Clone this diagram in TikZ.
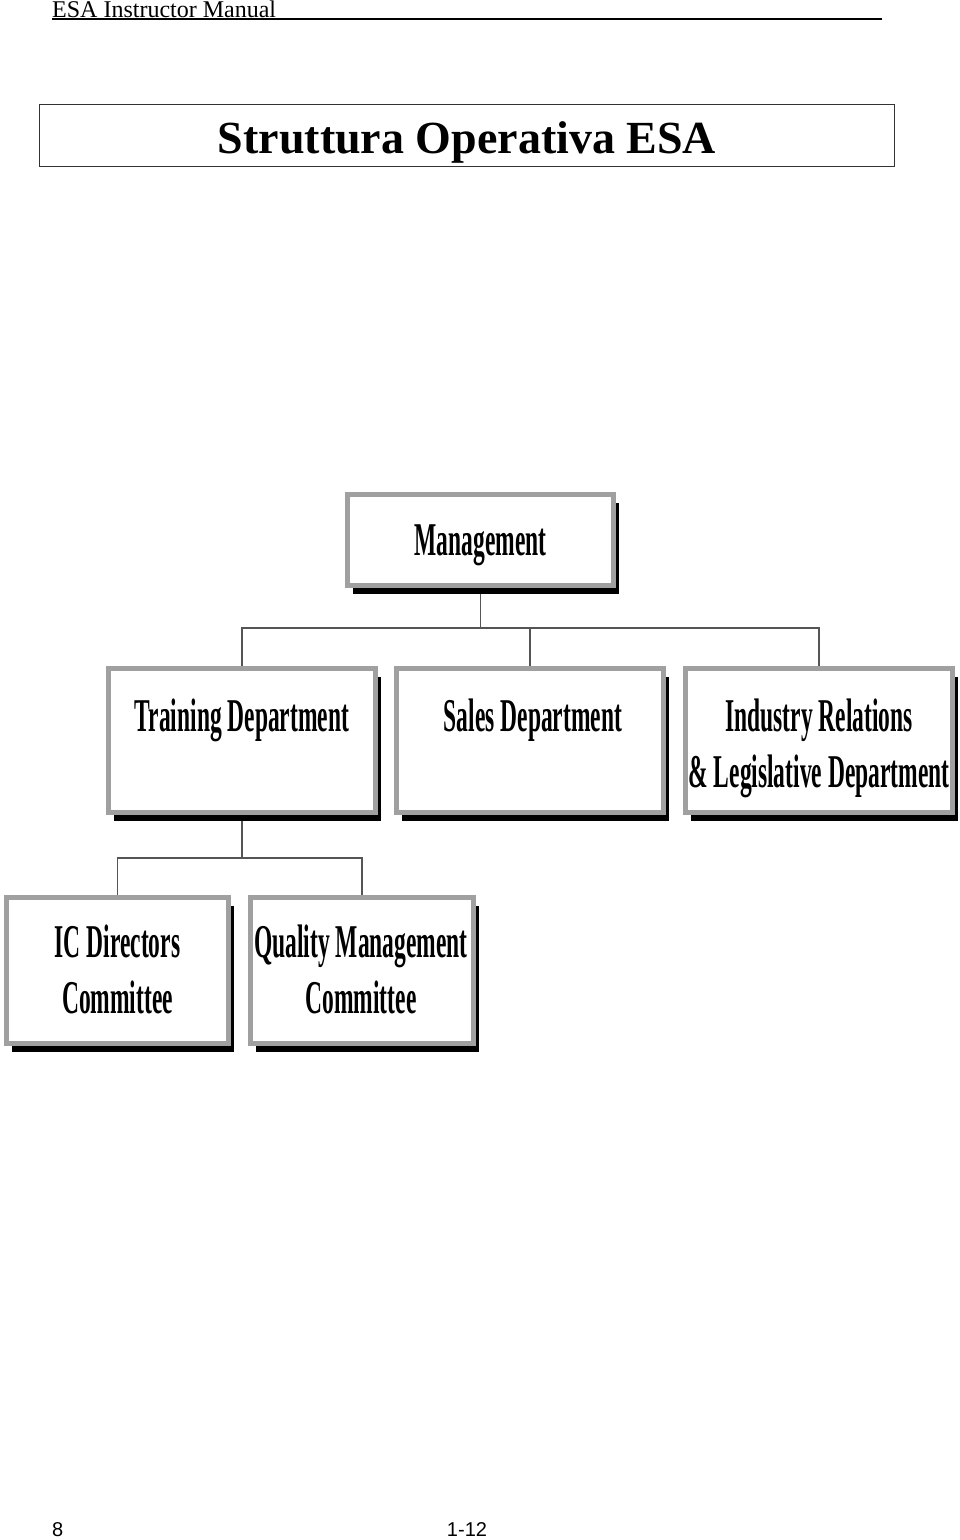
\documentclass[tikz,border=0pt]{standalone}
\usepackage{fontspec}
\setmainfont{Liberation Serif}
\newfontfamily\cond[FakeStretch=0.5]{Liberation Serif}
\newfontfamily\footfont{Liberation Sans}
\usetikzlibrary{shadows,backgrounds}
\definecolor{framegray}{HTML}{A0A0A0}
\definecolor{linegray}{HTML}{555555}
\tikzset{
  orgbox/.style={draw=framegray, line width=5pt, fill=white, inner sep=0pt,
    drop shadow={shadow xshift=5.5pt, shadow yshift=-8.5pt, fill=black, opacity=1}},
  orglabel/.style={font=\cond\bfseries\fontsize{47}{56}\selectfont, align=center, inner sep=0pt, anchor=base},
  conn/.style={draw=linegray, line width=1.5pt}
}
\begin{document}
\begin{tikzpicture}[x=1pt,y=-1pt]
\useasboundingbox (0,0) rectangle (960,1540);
% header
\node[font=\fontsize{24}{26}\selectfont, anchor=base west, inner sep=0pt] (hdr) at (52,17) {ESA Instructor Manual};
\coordinate (hdrend) at (882,19);
\draw[line width=1.2pt] (hdr.base west) ++(0,2) -- (hdrend);
% title
\node[draw=black!80, line width=0.8pt, minimum width=855pt, minimum height=62pt, inner sep=0pt] (titlebox) at (466.5,135) {};
\node[font=\bfseries\fontsize{46}{52}\selectfont, anchor=base, inner sep=0pt] (title) at (467,153) {Struttura Operativa ESA};
% boxes
\node[orgbox, minimum width=266pt, minimum height=91pt] (mgmt) at (480.5,540) {};
\node[orgbox, minimum width=267pt, minimum height=144pt] (train) at (242,740.5) {};
\node[orgbox, minimum width=267pt, minimum height=144pt] (sales) at (530,740.5) {};
\node[orgbox, minimum width=267pt, minimum height=144pt] (ind) at (819,740.5) {};
\node[orgbox, minimum width=222pt, minimum height=146pt] (ic) at (117.5,970.5) {};
\node[orgbox, minimum width=223pt, minimum height=146pt] (qm) at (362,970.5) {};
% labels
\node[orglabel] (mgmtl) at (480.5,555) {Management};
\node[orglabel] (trainl) at (242,731) {Training Department};
\node[orglabel] (salesl) at (533,731) {Sales Department};
\node[orglabel] (indl) at (819,787) {Industry Relations\\\& Legislative Department};
\node[orglabel] (icl) at (117.5,1013) {IC Directors\\Committee};
\node[orglabel] (qml) at (361,1013) {Quality Management\\Committee};
% connectors
\coordinate (bus1) at (480.5,628);
\coordinate (bus2) at (242,858);
\begin{scope}[on background layer]
\draw[conn] (mgmt.south) -- (bus1);
\draw[conn] (bus1) -| (train.north);
\draw[conn] (bus1) -| (sales.north);
\draw[conn] (bus1) -| (ind.north);
\draw[conn] (train.south) -- (bus2);
\draw[conn] (bus2) -| (ic.north);
\draw[conn] (bus2) -| (qm.north);
\end{scope}
% footer
\node[font=\footfont\fontsize{20}{22}\selectfont, anchor=base west, inner sep=0pt] (pg) at (52,1536) {8};
\node[font=\footfont\fontsize{20}{22}\selectfont, anchor=base, inner sep=0pt] (sec) at (467,1536) {1-12};
\end{tikzpicture}
\end{document}
